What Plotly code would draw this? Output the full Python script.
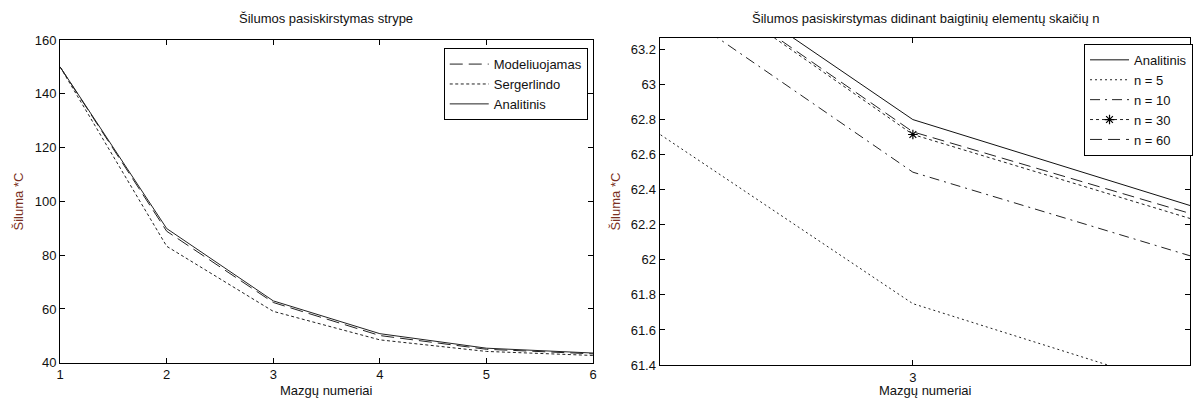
import plotly.graph_objects as go

# ---------------- data ----------------
# Left chart: temperature along the rod at nodes 1..6
nodes = [1, 2, 3, 4, 5, 6]
modeliuojamas = [150.0, 88.9, 62.4, 50.1, 45.0, 43.3]
sergerlindo = [150.0, 83.3, 59.1, 48.5, 44.2, 42.7]
analitinis = [150.0, 89.9, 63.0, 50.8, 45.4, 43.6]

# Right chart: zoomed view around node 3 for different n
nodes_r = [2, 3, 4]
analitinis_r = [88.71, 62.80, 51.03]
n5 = [87.16, 61.75, 49.80]
n10 = [88.62, 62.50, 51.05]
n30 = [89.18, 62.715, 51.21]
n60 = [89.04, 62.73, 51.56]

left_xticks = [1, 2, 3, 4, 5, 6]
left_yticks = [40, 60, 80, 100, 120, 140, 160]
right_xticks = [3]
right_yticks = [61.4, 61.6, 61.8, 62.0, 62.2, 62.4, 62.6, 62.8, 63.0, 63.2]
right_yticktext = ["61.4", "61.6", "61.8", "62", "62.2", "62.4", "62.6", "62.8", "63", "63.2"]

title_left = "Šilumos pasiskirstymas strype"
title_right = "Šilumos pasiskirstymas didinant baigtinių elementų skaičių n"
xlabel = "Mazgų numeriai"
ylabel = "Šiluma *C"

# ---------------- figure ----------------
W, H = 1195, 408
FONT = "Liberation Sans, Arial, sans-serif"
FS = 13
LC = "#222222"

fig = go.Figure()

# left traces
fig.add_trace(go.Scatter(x=nodes, y=modeliuojamas, mode="lines", name="Modeliuojamas",
                         line=dict(color=LC, width=1, dash="13px,6px"),
                         xaxis="x", yaxis="y", legend="legend"))
fig.add_trace(go.Scatter(x=nodes, y=sergerlindo, mode="lines", name="Sergerlindo",
                         line=dict(color=LC, width=1, dash="3px,2.5px"),
                         xaxis="x", yaxis="y", legend="legend"))
fig.add_trace(go.Scatter(x=nodes, y=analitinis, mode="lines", name="Analitinis",
                         line=dict(color=LC, width=1),
                         xaxis="x", yaxis="y", legend="legend"))

# right traces
fig.add_trace(go.Scatter(x=nodes_r, y=analitinis_r, mode="lines", name="Analitinis",
                         line=dict(color="#111111", width=1),
                         xaxis="x2", yaxis="y2", legend="legend2"))
fig.add_trace(go.Scatter(x=nodes_r, y=n5, mode="lines", name="n = 5",
                         line=dict(color=LC, width=1, dash="2px,3px"),
                         xaxis="x2", yaxis="y2", legend="legend2"))
fig.add_trace(go.Scatter(x=nodes_r, y=n10, mode="lines", name="n = 10",
                         line=dict(color=LC, width=1, dash="10px,5px,2px,5px"),
                         xaxis="x2", yaxis="y2", legend="legend2"))
fig.add_trace(go.Scatter(x=nodes_r, y=n30, mode="lines+markers", name="n = 30",
                         line=dict(color=LC, width=1, dash="3px,3px"),
                         marker=dict(symbol="asterisk-open", size=8,
                                     color="#000000", line=dict(color="#000000", width=1.2)),
                         xaxis="x2", yaxis="y2", legend="legend2"))
fig.add_trace(go.Scatter(x=nodes_r, y=n60, mode="lines", name="n = 60",
                         line=dict(color=LC, width=1, dash="12px,6px"),
                         xaxis="x2", yaxis="y2", legend="legend2"))

# pixel geometry -> paper domains
def px_x(p):
    return p / W

def px_y(p):
    return (H - p) / H

axis_common = dict(
    showgrid=False, zeroline=False, showline=True, linecolor="#000000", linewidth=1,
    mirror="ticks", ticks="inside", ticklen=5, tickwidth=1, tickcolor="#000000",
    tickfont=dict(family=FONT, size=FS, color="#111111"),
)

legend_common = dict(
    xanchor="left", yanchor="top",
    bgcolor="white", bordercolor="#000000", borderwidth=1,
    font=dict(family=FONT, size=FS, color="#111111"),
    tracegroupgap=0, itemwidth=39,
)

fig.update_layout(
    width=W, height=H,
    margin=dict(l=0, r=0, t=0, b=0),
    paper_bgcolor="white", plot_bgcolor="white",
    font=dict(family=FONT, size=FS, color="#111111"),
    xaxis=dict(domain=[px_x(56.5), px_x(593)], range=[1, 6],
               tickmode="array", tickvals=left_xticks, anchor="y", **axis_common),
    yaxis=dict(domain=[px_y(369.3), px_y(34.3)], range=[40, 160],
               tickmode="array", tickvals=left_yticks, anchor="x", **axis_common),
    xaxis2=dict(domain=[px_x(660), px_x(1194)], range=[3 - 255 / 6700, 3 + 279 / 6700],
                tickmode="array", tickvals=right_xticks, anchor="y2", **axis_common),
    yaxis2=dict(domain=[px_y(371.7), px_y(31.7)], range=[61.4, 63.268],
                tickmode="array", tickvals=right_yticks, ticktext=right_yticktext,
                anchor="x2", **axis_common),
    legend=dict(x=px_x(442.7), y=px_y(42.7), **legend_common),
    legend2=dict(x=px_x(1087.3), y=px_y(38.3), **legend_common),
    showlegend=True,
)

ann = dict(showarrow=False, xref="paper", yref="paper",
           font=dict(family=FONT, size=FS, color="#111111"))
fig.add_annotation(text=title_left, x=px_x(324.5), y=px_y(12), xanchor="center", yanchor="middle", **ann)
fig.add_annotation(text=title_right, x=px_x(928), y=px_y(12), xanchor="center", yanchor="middle", **ann)
fig.add_annotation(text=xlabel, x=px_x(324.5), y=px_y(398), xanchor="center", yanchor="middle", **ann)
fig.add_annotation(text=xlabel, x=px_x(928), y=px_y(398), xanchor="center", yanchor="middle", **ann)
ann_y = dict(ann)
ann_y["font"] = dict(family=FONT, size=FS, color="#7a2f22")
fig.add_annotation(text=ylabel, x=px_x(15), y=px_y(202), xanchor="center", yanchor="middle",
                   textangle=-90, **ann_y)
fig.add_annotation(text=ylabel, x=px_x(616), y=px_y(202), xanchor="center", yanchor="middle",
                   textangle=-90, **ann_y)

fig.write_html("out.html",
               config={"displayModeBar": False},
               post_script="document.body.style.margin='0';document.body.style.overflow='hidden';")
